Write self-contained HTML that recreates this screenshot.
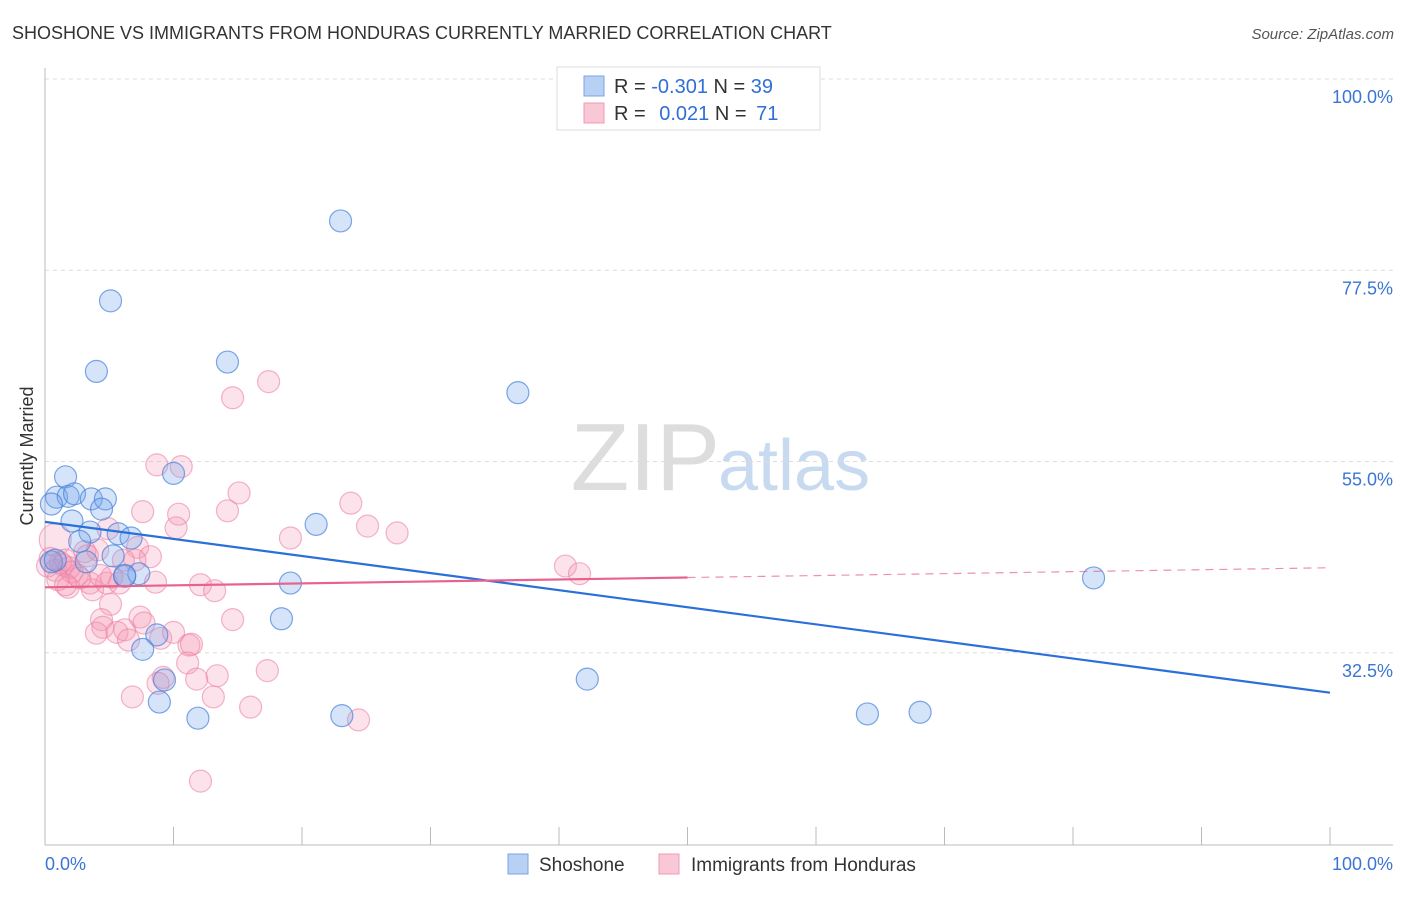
<!DOCTYPE html>
<html><head><meta charset="utf-8"><style>
body{margin:0;background:#fff;font-family:"Liberation Sans",sans-serif;}
svg text{font-family:"Liberation Sans",sans-serif;}
</style></head><body>
<svg id="chart" width="1406" height="892" viewBox="0 0 1406 892">
<text x="12" y="39" font-size="18" fill="#333">SHOSHONE VS IMMIGRANTS FROM HONDURAS CURRENTLY MARRIED CORRELATION CHART</text>
<text x="1394" y="39" font-size="15" fill="#555" font-style="italic" text-anchor="end">Source: ZipAtlas.com</text>
<text x="720" y="490" font-size="96" fill="#ddd" text-anchor="end" font-family="Liberation Serif">ZIP</text>
<text x="718" y="490" font-size="72" fill="#c8daf0">atlas</text>
<g id="grid"></g>
<g id="axes"></g>
<g id="marks"></g>
<text transform="translate(33,456) rotate(-90)" font-size="18" fill="#333" text-anchor="middle">Currently Married</text>
<g>
<rect x="557" y="67" width="263" height="63" fill="#fff" stroke="#ddd"/>
<rect x="584" y="76" width="20" height="20" fill="#b7d0f3" stroke="#7aa6e6"/>
<text x="614" y="93" font-size="20" fill="#333">R = <tspan fill="#2f6fd6">-0.301</tspan>   N = <tspan fill="#2f6fd6">39</tspan></text>
<rect x="584" y="103" width="20" height="20" fill="#f9c8d6" stroke="#f09ab4"/>
<text x="614" y="120" font-size="20" fill="#333">R = <tspan fill="#2f6fd6" dx="8">0.021</tspan>   N = <tspan fill="#2f6fd6" dx="4">71</tspan></text>
</g>
<g>
<rect x="508" y="854" width="20" height="20" fill="#b7d0f3" stroke="#7aa6e6"/>
<text x="539" y="871" font-size="19" fill="#333">Shoshone</text>
<rect x="659" y="854" width="20" height="20" fill="#f9c8d6" stroke="#f09ab4"/>
<text x="691" y="871" font-size="19" fill="#333">Immigrants from Honduras</text>
</g>
</svg>
<script>
const yTicks=[100,77.5,55,32.5];
const yTickLabels=["100.0%","77.5%","55.0%","32.5%"];
const xTickLabels=["0.0%","100.0%"];
const blueX=[23.0,5.1,4.0,14.2,36.8,1.6,10.0,0.9,1.8,2.3,3.6,4.7,0.5,4.4,2.1,3.5,5.7,6.7,2.7,5.3,3.2,0.5,7.3,6.2,19.1,81.6,21.1,18.4,8.7,7.6,9.3,42.2,8.9,11.9,23.1,64.0,68.1,0.8,6.2];
const blueY=[83.3,73.9,65.6,66.7,63.1,53.2,53.6,50.8,50.9,51.2,50.6,50.6,50.0,49.4,48.0,46.7,46.5,46.0,45.6,43.9,43.2,43.2,41.8,41.5,40.7,41.3,47.6,36.5,34.6,32.9,29.3,29.4,26.7,24.8,25.1,25.3,25.5,43.4,41.6];
const pinkX=[8.7,10.6,15.1,7.6,10.4,14.2,10.2,4.9,19.1,0.8,3.1,4.1,7.2,8.2,7.0,0.4,1.4,1.9,2.5,3.5,1.8,3.7,4.8,5.2,5.8,8.6,12.1,13.2,5.1,14.6,4.4,4.5,4.0,5.6,6.2,6.5,7.4,7.7,9.0,10.0,11.2,11.4,11.1,13.4,11.8,9.2,8.8,17.3,6.8,13.1,16.0,12.1,17.4,14.6,23.8,25.1,27.4,40.5,41.6,24.4,0.2,0.8,1.2,1.6,2.1,2.7,1.0,3.3,1.6,4.3,6.1];
const pinkY=[54.6,54.4,51.3,49.1,48.8,49.2,47.2,47.1,46.0,45.8,44.4,44.6,44.9,43.8,43.4,43.6,42.8,42.5,41.6,40.7,40.2,39.9,40.7,41.4,40.7,40.8,40.5,39.8,38.2,36.4,36.4,35.5,34.8,34.9,35.2,34.0,36.7,36.0,34.2,34.9,33.4,33.5,31.3,29.8,29.4,29.6,28.9,30.4,27.3,27.3,26.1,17.4,64.4,62.5,50.1,47.4,46.6,42.7,41.8,24.6,42.7,42.2,43.1,43.4,42.0,41.3,41.1,43.9,40.5,41.6,43.4];
const blueTrend=[47.9,27.8];
const pinkTrend=[40.2,42.5];
const pinkSolidEnd=50;
const NS="http://www.w3.org/2000/svg";
const X=v=>45+v*12.85;
const Y=v=>79+(100-v)*8.5;
function mk(tag,attrs,parent){const e=document.createElementNS(NS,tag);for(const k in attrs)e.setAttribute(k,attrs[k]);parent.appendChild(e);return e;}
const grid=document.getElementById('grid'),axes=document.getElementById('axes'),marks=document.getElementById('marks');
yTicks.forEach((t,i)=>{
 const g=mk('line',{x1:45,x2:1393,y1:Y(t),y2:Y(t),stroke:'#ddd','stroke-dasharray':'4,4'},grid);
 
 
 const tx=mk('text',{x:1393,y:Y(t)+24,'font-size':18,fill:'#3a75d4','text-anchor':'end'},axes);
 tx.textContent=yTickLabels[i];
 
 
});
const ax=mk('line',{x1:45,x2:45,y1:68,y2:845,stroke:'#bbb'},axes);


const bx=mk('line',{x1:45,x2:1393,y1:845,y2:845,stroke:'#bbb'},axes);


for(let i=0;i<=10;i++){
 const t=mk('line',{x1:X(i*10),x2:X(i*10),y1:827,y2:845,stroke:'#bbb'},axes);
 
 
}
[[0,'start'],[100,'end']].forEach((p,i)=>{
 const tx=mk('text',{x:i?1393:45,y:870,'font-size':18,fill:'#3a75d4','text-anchor':p[1]},axes);
 tx.textContent=xTickLabels[i];
 
 
});
pinkX.forEach((v,i)=>{
 const c=mk('circle',{cx:X(v),cy:Y(pinkY[i]),r:(i===9?16:11),fill:'rgba(244,150,180,0.28)',stroke:'rgba(236,130,165,0.6)','stroke-width':1.2},marks);
 
 
});
blueX.forEach((v,i)=>{
 const c=mk('circle',{cx:X(v),cy:Y(blueY[i]),r:11,fill:'rgba(120,165,235,0.3)',stroke:'rgba(70,130,220,0.7)','stroke-width':1.2},marks);
 
 
});
const bl=mk('line',{x1:X(0),y1:Y(blueTrend[0]),x2:X(100),y2:Y(blueTrend[1]),stroke:'#2b6fd9','stroke-width':2.2},marks);


const pm=pinkTrend[0]+(pinkTrend[1]-pinkTrend[0])*pinkSolidEnd/100;
const pl=mk('line',{x1:X(0),y1:Y(pinkTrend[0]),x2:X(pinkSolidEnd),y2:Y(pm),stroke:'#e8628f','stroke-width':2.2},marks);


const pd=mk('line',{x1:X(pinkSolidEnd),y1:Y(pm),x2:X(100),y2:Y(pinkTrend[1]),stroke:'#e8628f','stroke-width':1.2,'stroke-dasharray':'8,6','opacity':0.7},marks);


</script>
</body></html>
